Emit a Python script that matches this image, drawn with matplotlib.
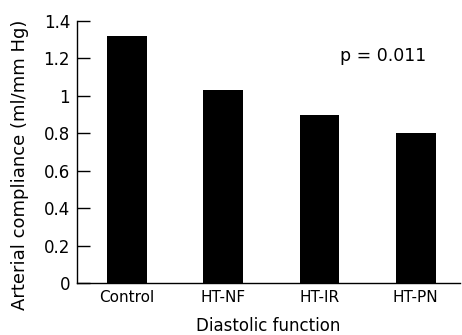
import matplotlib
matplotlib.use("Agg")
import matplotlib.pyplot as plt

categories = ["Control", "HT-NF", "HT-IR", "HT-PN"]
values = [1.32, 1.03, 0.90, 0.80]
yticks = [0, 0.2, 0.4, 0.6, 0.8, 1.0, 1.2, 1.4]
ytick_labels = ["0", "0.2", "0.4", "0.6", "0.8", "1", "1.2", "1.4"]

plt.rcParams['font.family'] = ['DejaVu Sans']

fig = plt.figure(figsize=(4.62, 3.35), dpi=100)
ax = fig.add_axes([77/462, (335-283)/335, (460-77)/462, (283-21)/335])

x = list(range(len(categories)))
ax.bar(x, values, width=0.415, color="black")
ax.set_xlim(-0.52, 3.46)
ax.set_ylim(0, 1.4)
ax.set_yticks(yticks)
ax.set_yticklabels(ytick_labels)
ax.set_xticks(x)
ax.set_xticklabels(categories)

for s in ["top", "right"]:
    ax.spines[s].set_visible(False)
for s in ["left", "bottom"]:
    ax.spines[s].set_linewidth(1.0)

ax.tick_params(axis="y", direction="in", length=9.5, width=1.0, pad=5, labelsize=12)
ax.tick_params(axis="x", length=0, pad=5, labelsize=11)

ax.set_xlabel("Diastolic function", fontsize=12, labelpad=9)
ax.set_ylabel("Arterial compliance (ml/mm Hg)", fontsize=13)
ax.yaxis.set_label_coords(-0.125, 0.45)

ax.text(0.80, 0.866, "p = 0.011", transform=ax.transAxes, ha="center", va="center", fontsize=12.5)

fig.savefig("out.png", dpi=100)
